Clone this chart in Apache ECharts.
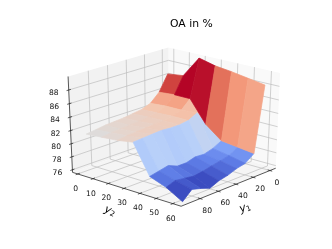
<!DOCTYPE html>
<html><head><meta charset="utf-8">
<style>html,body{margin:0;padding:0;background:#fff}#c{width:332px;height:249px}</style>
<script src="https://cdn.jsdelivr.net/npm/echarts@6/dist/echarts.min.js"></script>
</head><body><div id="c"></div>
<script>
const y1Values = [0,10,20,30,40,50,60,70,80,90];
const y2Values = [0,10,20,30,40,50,60];
const oa_y1_0  = [86.4,86.7,89.9,89.3,89.0,88.6,88.2];
const oa_y1_10 = [84.0,84.2,84.2,80.9,79.0,78.7,78.4];
const oa_y1_20 = [82.7,82.9,82.9,83.1,78.3,77.9,77.4];
const oa_y1_30 = [82.2,82.3,82.4,82.4,77.9,77.6,77.1];
const oa_y1_40 = [82.0,82.1,82.2,82.2,78.0,77.3,76.6];
const oa_y1_50 = [81.8,81.9,82.1,82.2,77.6,77.0,76.3];
const oa_y1_60 = [81.7,81.8,82.0,82.3,77.6,76.8,75.7];
const oa_y1_70 = [81.6,81.7,81.9,82.2,78.2,77.0,76.2];
const oa_y1_80 = [81.4,81.6,81.8,82.1,77.9,77.2,76.6];
const oa_y1_90 = [81.2,81.4,81.6,82.0,77.6,76.7,75.3];
const oaValues = [oa_y1_0,oa_y1_10,oa_y1_20,oa_y1_30,oa_y1_40,oa_y1_50,oa_y1_60,oa_y1_70,oa_y1_80,oa_y1_90];
const y1Ticks = [0,20,40,60,80];
const y2Ticks = [0,10,20,30,40,50,60];
const zTicks  = [76,78,80,82,84,86,88];
const titleText = 'OA in %';
const axisNames = [{sub:'1',x:245,y:208,rot:0.35},{sub:'2',x:110,y:211,rot:-0.4}];

const lim = {x:[-7,100.5], y:[-3.5,65], z:[75.6,89.95]};
const elev=25*Math.PI/180, azim=41.5*Math.PI/180, dist=10;
const SX=1470, SY=1054, CX=174.5, CY=123.5;
const R=[-Math.sin(azim),Math.cos(azim),0];
const U=[-Math.sin(elev)*Math.cos(azim),-Math.sin(elev)*Math.sin(azim),Math.cos(elev)];
const N=[Math.cos(elev)*Math.cos(azim),Math.cos(elev)*Math.sin(azim),Math.sin(elev)];
const dot=(a,b)=>a[0]*b[0]+a[1]*b[1]+a[2]*b[2];
const norm3=(x,y,z)=>[(x-lim.x[0])/(lim.x[1]-lim.x[0])-.5,(y-lim.y[0])/(lim.y[1]-lim.y[0])-.5,(z-lim.z[0])/(lim.z[1]-lim.z[0])-.5];
function proj(x,y,z){const p=norm3(x,y,z);const w=dist-dot(p,N);return [CX+SX*dot(p,R)/w,CY-SY*dot(p,U)/w];}
function depth(x,y,z){return dot(norm3(x,y,z),N);}

const stops=[[59,76,192],[98,130,234],[141,176,254],[184,208,249],[221,220,220],[244,198,175],[244,154,123],[217,88,71],[180,4,38]];
function coolwarm(t){t=Math.max(0,Math.min(1,t))*8;const i=Math.min(7,Math.floor(t)),f=t-i;const a=stops[i],b=stops[i+1];
 return 'rgb('+[0,1,2].map(k=>Math.round(a[k]+(b[k]-a[k])*f)).join(',')+')';}

const facets=[];
for(let i=0;i<y1Values.length-1;i++)for(let j=0;j<y2Values.length-1;j++){
 const c=[[i,j],[i+1,j],[i+1,j+1],[i,j+1]].map(([a,b])=>[y1Values[a],y2Values[b],oaValues[a][b]]);
 const mean=c.reduce((s,q)=>s+q[2],0)/4;
 const d=c.reduce((s,q)=>s+depth(q[0],q[1],q[2]),0)/4;
 facets.push({c,mean,d});
}
facets.sort((a,b)=>a.d-b.d);
const vmin=Math.min(...facets.map(f=>f.mean)), vmax=Math.max(...facets.map(f=>f.mean));

const [x0,x1]=lim.x,[y0,y1]=lim.y,[z0,z1]=lim.z;
const panes=[
 {pts:[[x0,y0,z0],[x0,y1,z0],[x0,y1,z1],[x0,y0,z1]],color:'#f9f9f9'},
 {pts:[[x0,y0,z0],[x1,y0,z0],[x1,y0,z1],[x0,y0,z1]],color:'#f2f2f2'},
 {pts:[[x0,y0,z0],[x1,y0,z0],[x1,y1,z0],[x0,y1,z0]],color:'#f5f5f5'}
];
const GRID='#bdbdbd', AX='#222';
const lines=[];
y1Ticks.forEach(t=>lines.push({pts:[[t,y1,z0],[t,y0,z0],[t,y0,z1]],color:GRID,w:.7}));
y2Ticks.forEach(t=>lines.push({pts:[[x1,t,z0],[x0,t,z0],[x0,t,z1]],color:GRID,w:.7}));
zTicks.forEach(t=>lines.push({pts:[[x1,y0,t],[x0,y0,t],[x0,y1,t]],color:GRID,w:.7}));
lines.push({pts:[[x1,y0,z0],[x1,y0,z1]],color:AX,w:.75});
lines.push({pts:[[x1,y0,z0],[x1,y1,z0]],color:AX,w:.75});
lines.push({pts:[[x1,y1,z0],[x0,y1,z0]],color:AX,w:.75});
const tx=(x1-x0)*.02,ty=(y1-y0)*.02;
y1Ticks.forEach(t=>lines.push({pts:[[t,y1-ty,z0],[t,y1+ty,z0]],color:AX,w:.75}));
y2Ticks.forEach(t=>lines.push({pts:[[x1-tx,t,z0],[x1+tx,t,z0]],color:AX,w:.75}));
zTicks.forEach(t=>lines.push({pts:[[x1-tx,y0,t],[x1+tx,y0,t]],color:AX,w:.75}));

const FONT='"DejaVu Sans"';
const labels=[];
y1Ticks.forEach(t=>{const p=proj(t,y1,z0);labels.push({x:p[0]+7,y:p[1]+12,text:String(t)});});
y2Ticks.forEach(t=>{const p=proj(x1,t,z0);labels.push({x:p[0]-2,y:p[1]+15,text:String(t)});});
zTicks.forEach(t=>{const p=proj(x1,y0,t);labels.push({x:p[0]-15,y:p[1]+3,text:String(t)});});

function polySeries(items,z){return {type:'custom',coordinateSystem:'cartesian2d',z,silent:true,clip:false,
 data:items.map((_,i)=>[i]),
 renderItem(params,api){const it=items[api.value(0)];
  return {type:'polygon',shape:{points:it.pts.map(q=>api.coord(proj(q[0],q[1],q[2])))},
   style:{fill:it.color,stroke:it.color,lineWidth:it.sw||0}};}};}
const option={
 animation:false,backgroundColor:'#fff',
 title:{text:titleText,left:170,top:18.5,padding:0,textStyle:{fontFamily:FONT,fontSize:10.8,fontWeight:'normal',color:'#000'}},
 grid:{left:0,right:0,top:0,bottom:0},
 xAxis:{type:'value',min:0,max:332,show:false},
 yAxis:{type:'value',min:0,max:249,inverse:true,show:false},
 series:[
  polySeries(panes,1),
  {type:'custom',coordinateSystem:'cartesian2d',z:2,silent:true,clip:false,data:lines.map((_,i)=>[i]),
   renderItem(params,api){const l=lines[api.value(0)];
    return {type:'polyline',shape:{points:l.pts.map(q=>api.coord(proj(q[0],q[1],q[2])))},style:{fill:'none',stroke:l.color,lineWidth:l.w}};}},
  polySeries(facets.map(f=>({pts:f.c,color:coolwarm((f.mean-vmin)/(vmax-vmin)),sw:.7})),3),
  {type:'custom',coordinateSystem:'cartesian2d',z:4,silent:true,clip:false,data:labels.map((_,i)=>[i]),
   renderItem(params,api){const l=labels[api.value(0)];const s=api.coord([l.x,l.y]);
    return {type:'text',x:s[0],y:s[1],style:{text:l.text,font:'7.6px '+FONT,fill:'#111',align:'center',verticalAlign:'middle'}};}},
  {type:'custom',coordinateSystem:'cartesian2d',z:4,silent:true,clip:false,data:axisNames.map((_,i)=>[i]),
   renderItem(params,api){const d=axisNames[api.value(0)];const s=api.coord([d.x,d.y]);
    return {type:'text',x:s[0],y:s[1],rotation:d.rot,style:{text:'{i|y}{s|'+d.sub+'}',align:'center',verticalAlign:'middle',
      rich:{i:{font:'italic 11px '+FONT,fill:'#000'},s:{font:'7.5px '+FONT,fill:'#000',padding:[4,0,0,0]}}}};}}
 ]
};
const chart=echarts.init(document.getElementById('c'),null,{renderer:'canvas',width:332,height:249});
chart.setOption(option);
</script></body></html>
